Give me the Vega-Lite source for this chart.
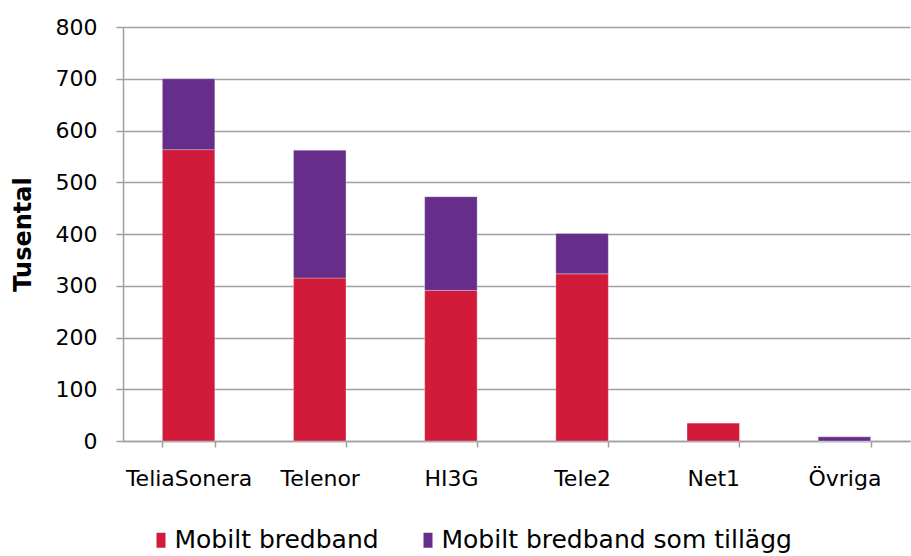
{
  "$schema": "https://vega.github.io/schema/vega-lite/v6.json",
  "width": 787,
  "height": 414,
  "autosize": {"type": "none"},
  "padding": {"left": 123, "top": 27, "right": 1, "bottom": 115},
  "background": "white",
  "data": {
    "values": [
      {"operator": "TeliaSonera", "type": "Mobilt bredband", "value": 563},
      {"operator": "TeliaSonera", "type": "Mobilt bredband som tillägg", "value": 137},
      {"operator": "Telenor", "type": "Mobilt bredband", "value": 315},
      {"operator": "Telenor", "type": "Mobilt bredband som tillägg", "value": 247},
      {"operator": "HI3G", "type": "Mobilt bredband", "value": 291},
      {"operator": "HI3G", "type": "Mobilt bredband som tillägg", "value": 181},
      {"operator": "Tele2", "type": "Mobilt bredband", "value": 323},
      {"operator": "Tele2", "type": "Mobilt bredband som tillägg", "value": 78},
      {"operator": "Net1", "type": "Mobilt bredband", "value": 35},
      {"operator": "Net1", "type": "Mobilt bredband som tillägg", "value": 0},
      {"operator": "Övriga", "type": "Mobilt bredband", "value": 0},
      {"operator": "Övriga", "type": "Mobilt bredband som tillägg", "value": 8}
    ]
  },
  "mark": {"type": "bar", "stroke": "#ffffff", "strokeWidth": 0.5, "strokeOpacity": 0.6},
  "encoding": {
    "x": {
      "field": "operator",
      "type": "nominal",
      "sort": ["TeliaSonera", "Telenor", "HI3G", "Tele2", "Net1", "Övriga"],
      "scale": {"paddingInner": 0.6, "paddingOuter": 0.3},
      "axis": {
        "title": null,
        "labelAngle": 0,
        "labelFont": "DejaVu Sans",
        "labelFontSize": 22,
        "labelColor": "#000000",
        "labelPadding": 21,
        "tickBand": "extent",
        "tickSize": 6,
        "tickColor": "#a0a0a0",
        "tickWidth": 1.5,
        "domainColor": "#a0a0a0",
        "domainWidth": 1.5,
        "grid": false
      }
    },
    "y": {
      "field": "value",
      "type": "quantitative",
      "stack": "zero",
      "scale": {"domain": [0, 800], "nice": false},
      "axis": {
        "title": "Tusental",
        "titleFont": "DejaVu Sans",
        "titleFontSize": 24,
        "titleFontWeight": "bold",
        "titleColor": "#000000",
        "titlePadding": 20,
        "values": [0, 100, 200, 300, 400, 500, 600, 700, 800],
        "labelFont": "DejaVu Sans",
        "labelFontSize": 22,
        "labelColor": "#000000",
        "labelPadding": 19,
        "tickSize": 7,
        "tickColor": "#a0a0a0",
        "tickWidth": 1.5,
        "domainColor": "#a0a0a0",
        "domainWidth": 1.5,
        "grid": true,
        "gridColor": "#a0a0a0",
        "gridWidth": 1.5
      }
    },
    "order": {"field": "type", "type": "nominal", "sort": "ascending"},
    "color": {
      "field": "type",
      "type": "nominal",
      "scale": {
        "domain": ["Mobilt bredband", "Mobilt bredband som tillägg"],
        "range": ["#d21b3b", "#662d8a"]
      },
      "legend": {
        "title": null,
        "orient": "bottom",
        "direction": "horizontal",
        "offset": 13,
        "padding": 25.5,
        "symbolType": "M-0.6,-1H0.6V1H-0.6Z",
        "symbolSize": 225,
        "symbolStrokeWidth": 0,
        "labelFont": "DejaVu Sans",
        "labelFontSize": 25,
        "labelColor": "#000000",
        "labelOffset": 1,
        "columnPadding": 36,
        "labelLimit": 500
      }
    }
  },
  "config": {
    "view": {"stroke": null}
  }
}
